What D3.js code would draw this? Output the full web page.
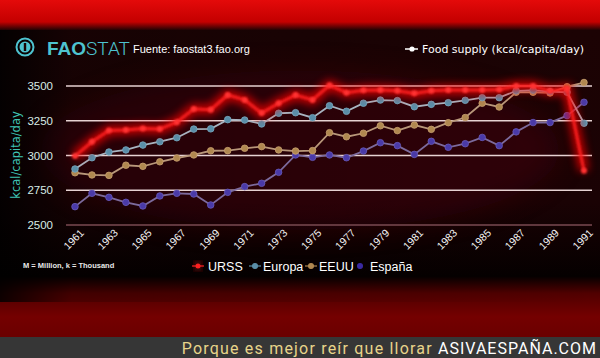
<!DOCTYPE html>
<html>
<head>
<meta charset="utf-8">
<script src="https://cdn.jsdelivr.net/npm/d3@7"></script>
<style>
  body { margin: 0; background: #000; }
  svg { display: block; }
  text { font-family: "Liberation Sans", Arial, sans-serif; }
</style>
</head>
<body>
<div id="chart"></div>
<script>
// food supply, kcal/capita/day
var years = d3.range(1961, 1992);
var urss = [2996, 3099, 3180, 3183, 3195, 3190, 3240, 3335, 3330, 3435, 3400, 3305, 3376, 3435, 3400, 3505,
    3452, 3470, 3471, 3466, 3447, 3466, 3471, 3471, 3471, 3475, 3500, 3500, 3465, 3480, 2890];
var europa = [2903, 2984, 3025, 3040, 3075, 3099, 3128, 3190, 3192, 3258, 3255, 3227, 3304, 3308, 3272, 3358,
    3318, 3376, 3399, 3395, 3351, 3368, 3380, 3397, 3416, 3416, 3465, 3470, 3459, 3455, 3232];
var eeuu = [2876, 2860, 2857, 2930, 2922, 2955, 2982, 3004, 3034, 3035, 3052, 3064, 3040, 3032, 3035, 3164,
    3135, 3160, 3214, 3179, 3219, 3188, 3236, 3273, 3376, 3349, 3455, 3455, 3450, 3495, 3525];
var espana = [2632, 2728, 2699, 2663, 2637, 2709, 2728, 2723, 2644, 2735, 2776, 2800, 2879, 3004, 2987, 3004,
    2984, 3032, 3092, 3071, 3008, 3102, 3059, 3085, 3130, 3071, 3170, 3237, 3237, 3287, 3383];
var yTicks = [2500, 2750, 3000, 3250, 3500];
var xTicks = d3.range(1961, 1992, 2);

var width = 600,
    height = 358;

var svg = d3.select("#chart").append("svg")
    .attr("width", width)
    .attr("height", height);

var defs = svg.append("defs");

var bgGrad = defs.append("linearGradient").attr("id", "bg").attr("x1", 0).attr("y1", 0).attr("x2", 0).attr("y2", 1);
bgGrad.append("stop").attr("offset", "0%").attr("stop-color", "#e40a0a");
bgGrad.append("stop").attr("offset", "6.5%").attr("stop-color", "#c40000");
bgGrad.append("stop").attr("offset", "9%").attr("stop-color", "#1c0304");
bgGrad.append("stop").attr("offset", "60%").attr("stop-color", "#1a0204");
bgGrad.append("stop").attr("offset", "82%").attr("stop-color", "#050000");
bgGrad.append("stop").attr("offset", "87%").attr("stop-color", "#500000");
bgGrad.append("stop").attr("offset", "94%").attr("stop-color", "#740000");
bgGrad.append("stop").attr("offset", "100%").attr("stop-color", "#6a0000");

var sideGrad = defs.append("linearGradient").attr("id", "side").attr("x1", 0).attr("y1", 0).attr("x2", 1).attr("y2", 0);
sideGrad.append("stop").attr("offset", "0%").attr("stop-color", "#000").attr("stop-opacity", 0.85);
sideGrad.append("stop").attr("offset", "12%").attr("stop-color", "#000").attr("stop-opacity", 0.2);
sideGrad.append("stop").attr("offset", "100%").attr("stop-color", "#000").attr("stop-opacity", 0);

var glow = defs.append("filter").attr("id", "glow")
    .attr("x", "-20%").attr("y", "-50%").attr("width", "140%").attr("height", "200%");
glow.append("feGaussianBlur").attr("stdDeviation", 4);

var soft = defs.append("filter").attr("id", "soft")
    .attr("x", "-20%").attr("y", "-50%").attr("width", "140%").attr("height", "200%");
soft.append("feGaussianBlur").attr("stdDeviation", 14);

var thin = defs.append("filter").attr("id", "thin")
    .attr("x", "-20%").attr("y", "-50%").attr("width", "140%").attr("height", "200%");
thin.append("feGaussianBlur").attr("stdDeviation", 0.8);

svg.append("rect").attr("width", width).attr("height", 337).attr("fill", "url(#bg)");
svg.append("ellipse").attr("cx", 300).attr("cy", 150).attr("rx", 260).attr("ry", 80)
    .attr("fill", "#4a0008").attr("opacity", 0.45).attr("filter", "url(#soft)");
svg.append("rect").attr("y", 30).attr("width", width).attr("height", 272).attr("fill", "url(#side)");
svg.append("rect").attr("y", 337).attr("width", width).attr("height", 21).attr("fill", "#363636");

var x = d3.scaleLinear().domain([1961, 1991]).range([75, 584]);
var y = d3.scaleLinear().domain([2500, 3500]).range([225, 86]);

// grid
svg.append("g").selectAll("line")
    .data(yTicks)
    .enter().append("line")
    .attr("x1", 66).attr("x2", 592)
    .attr("y1", function (d) { return y(d); })
    .attr("y2", function (d) { return y(d); })
    .attr("stroke", function (d) { return d === 2500 ? "#7a4a52" : "#e6d2d2"; })
    .attr("stroke-width", 1.5);

svg.append("g").selectAll("text")
    .data(yTicks)
    .enter().append("text")
    .attr("x", 53).attr("y", function (d) { return y(d); })
    .attr("dy", "0.35em")
    .attr("text-anchor", "end")
    .attr("fill", "#d8ece6")
    .style("font-size", "11.5px")
    .text(function (d) { return d; });

svg.append("text")
    .attr("transform", "translate(20,155) rotate(-90)")
    .attr("text-anchor", "middle")
    .attr("fill", "#3fc4b4")
    .style("font-size", "11.5px")
    .style("font-family", "DejaVu Sans")
    .text("kcal/capita/day");

svg.append("g").selectAll("text")
    .data(xTicks)
    .enter().append("text")
    .attr("transform", function (d) { return "translate(" + (x(d) + 7) + ",231) rotate(-45)"; })
    .attr("text-anchor", "end")
    .attr("dy", "0.35em")
    .attr("fill", "#f2f2f2")
    .style("font-size", "10.5px")
    .text(function (d) { return d; });

var line = d3.line()
    .x(function (d, i) { return x(years[i]); })
    .y(function (d) { return y(d); });

function drawSeries(values, lineColor, dotColor, dotStroke) {
    var g = svg.append("g");
    g.append("path")
        .attr("d", line(values))
        .attr("fill", "none")
        .attr("stroke", lineColor)
        .attr("stroke-width", 1.8);
    g.selectAll("circle")
        .data(values)
        .enter().append("circle")
        .attr("cx", function (d, i) { return x(years[i]); })
        .attr("cy", function (d) { return y(d); })
        .attr("r", 3.3)
        .attr("fill", dotColor)
        .attr("stroke", dotStroke)
        .attr("stroke-width", 0.8);
}

drawSeries(espana, "#7c6a9c", "#4a3aa8", "#6a5ab8");
drawSeries(eeuu, "#b8977a", "#b08850", "#c8a070");
drawSeries(europa, "#a8b4c0", "#5a8ea8", "#7aaac0");

// URSS glowing line
var ur = svg.append("g");
ur.append("path")
    .attr("d", line(urss))
    .attr("fill", "none")
    .attr("stroke", "#ff0000")
    .attr("stroke-width", 10)
    .attr("opacity", 0.75)
    .attr("filter", "url(#glow)");
ur.append("path")
    .attr("d", line(urss))
    .attr("fill", "none")
    .attr("stroke", "#ff2424")
    .attr("stroke-width", 3)
    .attr("opacity", 0.9)
    .attr("filter", "url(#thin)");
ur.selectAll("circle")
    .data(urss)
    .enter().append("circle")
    .attr("cx", function (d, i) { return x(years[i]); })
    .attr("cy", function (d) { return y(d); })
    .attr("r", 3)
    .attr("fill", "#ff3030")
    .attr("filter", "url(#thin)");

// header
var logo = svg.append("g").attr("transform", "translate(25,47)");
logo.append("circle").attr("r", 8.5).attr("fill", "none").attr("stroke", "#4ec3d0").attr("stroke-width", 2);
logo.append("circle").attr("r", 5.5).attr("fill", "#4ec3d0");
logo.append("rect").attr("x", -1.2).attr("y", -4).attr("width", 2.4).attr("height", 8).attr("fill", "#1a0304");

var fao = svg.append("text").attr("x", 47).attr("y", 55)
    .attr("fill", "#4ec3d0").style("font-size", "19px");
fao.append("tspan").style("font-weight", "bold").text("FAO");
fao.append("tspan").style("font-weight", "300").style("font-family", "Roboto").text("STAT");

svg.append("text").attr("x", 133).attr("y", 53)
    .attr("fill", "#fff").style("font-size", "11px")
    .text("Fuente: faostat3.fao.org");

svg.append("line").attr("x1", 405).attr("x2", 418).attr("y1", 49).attr("y2", 49)
    .attr("stroke", "#fff").attr("stroke-width", 1.5);
svg.append("circle").attr("cx", 412).attr("cy", 49).attr("r", 2.6).attr("fill", "#fff");
svg.append("text").attr("x", 422).attr("y", 53)
    .attr("fill", "#fff").style("font-size", "11px").style("font-family", "DejaVu Sans")
    .text("Food supply (kcal/capita/day)");

// footnote + legend
svg.append("text").attr("x", 23).attr("y", 268)
    .attr("fill", "#e8e8e8").style("font-size", "7.5px").style("font-weight", "bold")
    .text("M = Million, k = Thousand");

var legendItems = [
    {name: "URSS", x: 198, color: "#ff2020", line: "#ff2020"},
    {name: "Europa", x: 255, color: "#5a8ea8", line: "#5a8ea8"},
    {name: "EEUU", x: 311, color: "#b08850", line: "#b08850"},
    {name: "España", x: 360, color: "#3a2aa0", line: "none"}
];

var lg = svg.append("g").selectAll("g")
    .data(legendItems)
    .enter().append("g")
    .attr("transform", function (d) { return "translate(" + d.x + ",266)"; });
lg.append("line").attr("x1", -6).attr("x2", 6)
    .attr("stroke", function (d) { return d.line; }).attr("stroke-width", 1.2);
lg.append("circle").attr("r", 3).attr("fill", function (d) { return d.color; })
    .attr("filter", function (d) { return d.name === "URSS" ? "url(#glow)" : null; });
lg.append("circle").attr("r", 2.5).attr("fill", function (d) { return d.color; });
lg.append("text").attr("x", function (d) { return d.name === "URSS" || d.name === "España" ? 10 : 8; })
    .attr("dy", "0.36em")
    .attr("fill", "#fff").style("font-size", "12.5px")
    .text(function (d) { return d.name; });

// bottom banner
var foot = svg.append("text").attr("x", 597).attr("y", 354)
    .attr("text-anchor", "end").style("font-family", "Roboto").style("font-size", "16px");
foot.append("tspan").attr("fill", "#e8d48a").attr("letter-spacing", "1.2").text("Porque es mejor reír que llorar ");
foot.append("tspan").attr("fill", "#ffffff").attr("letter-spacing", "1").text("ASIVAESPAÑA.COM");
</script>
</body>
</html>
